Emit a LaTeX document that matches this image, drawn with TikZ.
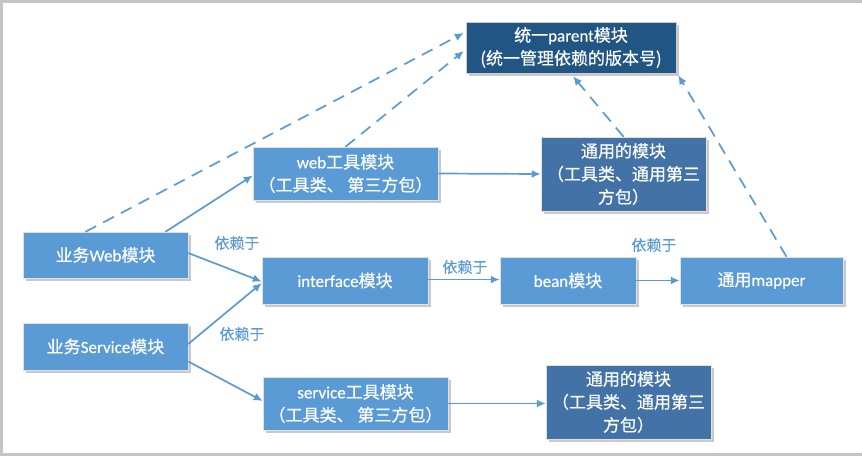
\documentclass[tikz,border=0pt]{standalone}
\usepackage{fontspec}
\setmainfont{Carlito}[FakeBold=0.35]
\newfontfamily\cjk[FakeBold=0.4]{Noto Sans CJK SC}
\newcommand{\zh}[1]{{\cjk #1}}
\usetikzlibrary{arrows.meta,shadows}
\definecolor{lightbox}{HTML}{5B9BD5}
\definecolor{midbox}{HTML}{4373A6}
\definecolor{darkbox}{HTML}{215684}
\definecolor{linkc}{HTML}{5B9BD5}
\definecolor{framec}{HTML}{C4C4C4}
\tikzset{
  modbox/.style={fill=lightbox, draw=black!12, line width=0.5pt, text=white,
    align=center, inner sep=0pt, font=\fontsize{17}{23}\selectfont,
    drop shadow={shadow xshift=2.5pt, shadow yshift=-2.5pt, opacity=0.35, fill=black!60}},
  midmod/.style={modbox, fill=midbox},
  darkmod/.style={modbox, fill=darkbox, draw=black!20},
  link/.style={draw=linkc, line width=1.7pt, -{Latex[length=9pt,width=8pt]}},
  duelink/.style={link, dash pattern=on 12pt off 8pt},
  deplabel/.style={text=linkc, font=\fontsize{15}{17}\selectfont}
}
\begin{document}
\begin{tikzpicture}[x=1pt,y=-1pt]
  % page and its grey frame
  \fill[white] (0,0) rectangle (862,456);
  \useasboundingbox (0,0) rectangle (862,456);
  \draw[framec, line width=3pt] (1.5,456) -- (1.5,1.2) -- (862,1.2);
  \draw[framec, line width=3.5pt] (0,454.3) -- (862,454.3);

  % modules
  \node[darkmod, minimum width=210pt, minimum height=51pt] (parent) at (571,47.5)
    {\zh{统一}parent\zh{模块}\\\zh{(统一管理依赖的版本号)}};
  \node[modbox, minimum width=185pt, minimum height=53pt] (webtool) at (345.5,173.5)
    {web\zh{工具模块}\\\zh{（工具类、 第三方包）}};
  \node[midmod, minimum width=165pt, minimum height=74pt] (common1) at (623.5,174)
    {\zh{通用的模块}\\\zh{（工具类、通用第三}\\\zh{方包）}};
  \node[modbox, minimum width=165pt, minimum height=46pt] (bizweb) at (105.5,255)
    {\zh{业务}Web\zh{模块}};
  \node[modbox, minimum width=166pt, minimum height=47pt] (iface) at (345,280.5)
    {interface\zh{模块}};
  \node[modbox, minimum width=136pt, minimum height=47pt] (bean) at (568,280.5)
    {bean\zh{模块}};
  \node[modbox, minimum width=163pt, minimum height=47pt] (mapper) at (761.5,280.5)
    {\zh{通用}mapper};
  \node[modbox, minimum width=165pt, minimum height=47pt] (bizsvc) at (105.5,346.5)
    {\zh{业务}Service\zh{模块}};
  \node[modbox, minimum width=185pt, minimum height=53pt] (svctool) at (355.5,403.5)
    {service\zh{工具模块}\\\zh{（工具类、 第三方包）}};
  \node[midmod, minimum width=165pt, minimum height=74pt] (common2) at (628.5,402)
    {\zh{通用的模块}\\\zh{（工具类、通用第三}\\\zh{方包）}};

  % version management links to the parent
  \draw[duelink] ([xshift=-20pt]bizweb.north) -- ([xshift=-2pt,yshift=14.5pt]parent.west);
  \draw[duelink] (webtool.north) -- ([xshift=-2pt,yshift=-3.5pt]parent.west);
  \draw[duelink] (common1.north) -- ([xshift=2pt,yshift=-3pt]parent.south);
  \draw[duelink] ([xshift=25pt]mapper.north) -- ([xshift=2pt,yshift=-2pt]parent.south east);

  % dependencies
  \draw[link] ([xshift=60pt]bizweb.north) -- ([yshift=-2pt]webtool.west);
  \draw[link] ([yshift=2pt]bizweb.east) -- ([yshift=-1pt]iface.west);
  \draw[link] ([yshift=2.5pt]bizsvc.east) -- ([yshift=-2.5pt]iface.west);
  \draw[link] ([yshift=-15pt]bizsvc.east) -- ([yshift=2.5pt]svctool.west);
  \draw[link] (webtool.east) -- (common1.west);
  \draw[link] (svctool.east) -- (svctool.east -| common2.west);
  \draw[link] ([yshift=1pt]iface.east) -- ([yshift=1pt]bean.west);
  \draw[link] (bean.east) -- (mapper.west);

  % dependency labels
  \node[deplabel] (dep1) at (237,243) {\zh{依赖于}};
  \node[deplabel] (dep2) at (242,334) {\zh{依赖于}};
  \node[deplabel] (dep3) at (465,267) {\zh{依赖于}};
  \node[deplabel] (dep4) at (654,245) {\zh{依赖于}};
\end{tikzpicture}
\end{document}
